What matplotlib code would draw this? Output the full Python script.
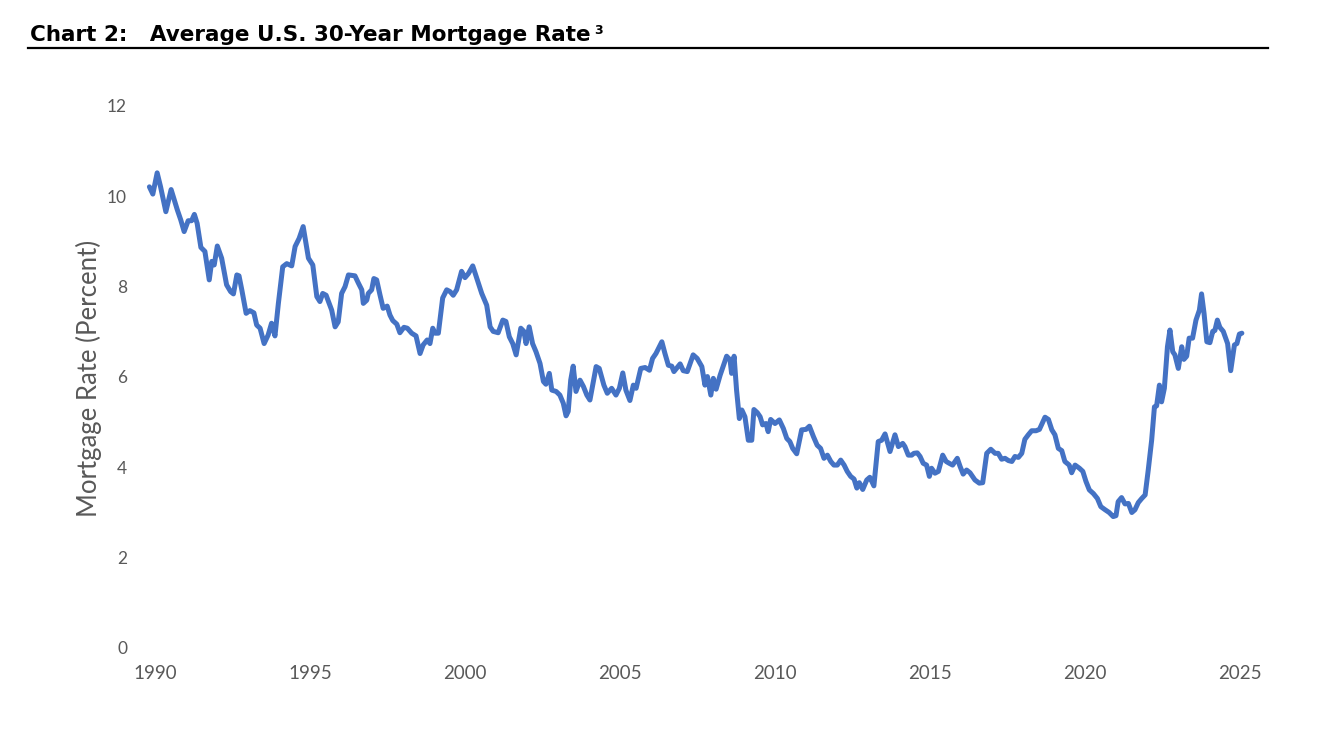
import matplotlib
matplotlib.use("Agg")
import matplotlib.pyplot as plt

# Decimal-year dates and average 30-year mortgage rate (percent)
years = [
    1989.82, 1989.93, 1990.07, 1990.18, 1990.35, 1990.52, 1990.72, 1990.83, 1990.94, 1991.07,
    1991.18, 1991.27, 1991.36, 1991.48, 1991.61, 1991.75, 1991.83, 1991.91, 1992.01, 1992.15,
    1992.31, 1992.44, 1992.53, 1992.64, 1992.71, 1992.80, 1992.94, 1993.06, 1993.19, 1993.28,
    1993.39, 1993.52, 1993.65, 1993.76, 1993.87, 1993.98, 1994.12, 1994.25, 1994.41, 1994.52,
    1994.65, 1994.78, 1994.95, 1995.09, 1995.22, 1995.32, 1995.41, 1995.52, 1995.62, 1995.70,
    1995.81, 1995.91, 1996.02, 1996.13, 1996.24, 1996.45, 1996.56, 1996.67, 1996.72, 1996.83,
    1996.88, 1996.99, 1997.06, 1997.15, 1997.26, 1997.36, 1997.49, 1997.58, 1997.67, 1997.80,
    1997.90, 1998.03, 1998.14, 1998.28, 1998.42, 1998.55, 1998.65, 1998.78, 1998.87, 1998.96,
    1999.03, 1999.14, 1999.28, 1999.41, 1999.52, 1999.62, 1999.73, 1999.89, 2000.00, 2000.11,
    2000.25, 2000.38, 2000.54, 2000.70, 2000.81, 2000.91, 2001.07, 2001.22, 2001.32, 2001.43,
    2001.54, 2001.65, 2001.80, 2001.90, 2001.97, 2002.07, 2002.18, 2002.29, 2002.42, 2002.53,
    2002.61, 2002.72, 2002.80, 2002.94, 2003.06, 2003.17, 2003.26, 2003.33, 2003.41, 2003.49,
    2003.58, 2003.71, 2003.82, 2003.93, 2004.03, 2004.12, 2004.23, 2004.33, 2004.48, 2004.59,
    2004.73, 2004.87, 2004.98, 2005.09, 2005.19, 2005.32, 2005.43, 2005.52, 2005.67, 2005.81,
    2005.95, 2006.05, 2006.16, 2006.35, 2006.45, 2006.56, 2006.67, 2006.74, 2006.94, 2007.04,
    2007.17, 2007.36, 2007.49, 2007.64, 2007.74, 2007.82, 2007.93, 2008.01, 2008.10, 2008.23,
    2008.44, 2008.55, 2008.60, 2008.68, 2008.76, 2008.85, 2008.93, 2009.03, 2009.14, 2009.25,
    2009.32, 2009.43, 2009.52, 2009.60, 2009.71, 2009.78, 2009.86, 2010.00, 2010.14, 2010.27,
    2010.38, 2010.48, 2010.57, 2010.70, 2010.86, 2011.00, 2011.11, 2011.24, 2011.36, 2011.47,
    2011.58, 2011.69, 2011.80, 2011.90, 2012.01, 2012.12, 2012.23, 2012.33, 2012.44, 2012.55,
    2012.64, 2012.72, 2012.83, 2012.96, 2013.06, 2013.19, 2013.33, 2013.44, 2013.55, 2013.71,
    2013.87, 2013.98, 2014.12, 2014.19, 2014.30, 2014.41, 2014.48, 2014.59, 2014.68, 2014.78,
    2014.89, 2014.98, 2015.05, 2015.16, 2015.27, 2015.41, 2015.52, 2015.62, 2015.73, 2015.88,
    2015.97, 2016.07, 2016.18, 2016.29, 2016.45, 2016.59, 2016.70, 2016.83, 2016.96, 2017.10,
    2017.20, 2017.31, 2017.42, 2017.53, 2017.64, 2017.74, 2017.85, 2017.96, 2018.06, 2018.17,
    2018.28, 2018.42, 2018.53, 2018.71, 2018.82, 2018.93, 2019.03, 2019.14, 2019.25, 2019.35,
    2019.49, 2019.57, 2019.68, 2019.82, 2019.93, 2020.03, 2020.14, 2020.27, 2020.40, 2020.51,
    2020.65, 2020.78, 2020.91, 2021.00, 2021.07, 2021.18, 2021.29, 2021.40, 2021.51, 2021.61,
    2021.72, 2021.83, 2021.94, 2022.04, 2022.15, 2022.24, 2022.31, 2022.40, 2022.47, 2022.56,
    2022.66, 2022.74, 2022.83, 2022.90, 2023.01, 2023.12, 2023.19, 2023.28, 2023.36, 2023.47,
    2023.58, 2023.69, 2023.76, 2023.84, 2023.93, 2024.03, 2024.12, 2024.19, 2024.27, 2024.35,
    2024.46, 2024.60, 2024.70, 2024.82, 2024.90, 2024.98, 2025.06,
]
rates = [
    10.21, 10.05, 10.52, 10.21, 9.66, 10.15, 9.70, 9.48, 9.22, 9.46,
    9.46, 9.60, 9.40, 8.87, 8.78, 8.15, 8.56, 8.48, 8.90, 8.63,
    8.04, 7.89, 7.84, 8.26, 8.24, 7.93, 7.41, 7.47, 7.42, 7.15,
    7.08, 6.74, 6.93, 7.19, 6.91, 7.63, 8.44, 8.51, 8.46, 8.89,
    9.07, 9.33, 8.63, 8.48, 7.78, 7.67, 7.85, 7.81, 7.63, 7.48,
    7.11, 7.22, 7.85, 8.00, 8.26, 8.24, 8.08, 7.93, 7.63, 7.70,
    7.85, 7.93, 8.18, 8.15, 7.81, 7.52, 7.57, 7.37, 7.25, 7.17,
    6.98, 7.10, 7.08, 6.97, 6.91, 6.52, 6.71, 6.82, 6.74, 7.08,
    6.97, 6.97, 7.75, 7.93, 7.89, 7.81, 7.93, 8.34, 8.20, 8.29,
    8.46, 8.19, 7.85, 7.59, 7.11, 7.01, 6.98, 7.26, 7.23, 6.89,
    6.74, 6.49, 7.08, 7.01, 6.74, 7.11, 6.74, 6.56, 6.30, 5.90,
    5.84, 6.08, 5.71, 5.68, 5.60, 5.42, 5.14, 5.24, 5.93, 6.24,
    5.68, 5.93, 5.79, 5.60, 5.49, 5.82, 6.23, 6.19, 5.82, 5.64,
    5.75, 5.60, 5.75, 6.09, 5.71, 5.48, 5.82, 5.75, 6.19, 6.21,
    6.15, 6.41, 6.52, 6.78, 6.52, 6.26, 6.24, 6.12, 6.29, 6.14,
    6.12, 6.49, 6.41, 6.23, 5.82, 6.01, 5.60, 5.97, 5.73, 6.04,
    6.46, 6.38, 6.08, 6.46, 5.71, 5.08, 5.27, 5.12, 4.60, 4.60,
    5.28, 5.21, 5.12, 4.94, 4.97, 4.79, 5.06, 4.97, 5.05, 4.86,
    4.64, 4.57, 4.42, 4.30, 4.83, 4.84, 4.91, 4.68, 4.49, 4.42,
    4.20, 4.27, 4.13, 4.05, 4.05, 4.16, 4.05, 3.91, 3.80, 3.74,
    3.54, 3.66, 3.51, 3.72, 3.78, 3.59, 4.57, 4.60, 4.74, 4.35,
    4.72, 4.46, 4.53, 4.46, 4.27, 4.27, 4.31, 4.32, 4.24, 4.09,
    4.05, 3.80, 3.98, 3.87, 3.91, 4.27, 4.13, 4.09, 4.05, 4.20,
    4.02, 3.85, 3.94, 3.88, 3.72, 3.65, 3.66, 4.31, 4.40, 4.31,
    4.31, 4.18, 4.20, 4.15, 4.13, 4.24, 4.22, 4.31, 4.62, 4.72,
    4.81, 4.81, 4.84, 5.11, 5.06, 4.83, 4.72, 4.42, 4.37, 4.13,
    4.05, 3.88, 4.05, 3.98, 3.91, 3.69, 3.50, 3.42, 3.31, 3.13,
    3.06, 3.00, 2.91, 2.93, 3.24, 3.33, 3.19, 3.20, 3.00, 3.06,
    3.22, 3.31, 3.39, 3.94, 4.60, 5.34, 5.36, 5.82, 5.45, 5.75,
    6.67, 7.04, 6.56, 6.49, 6.19, 6.67, 6.39, 6.46, 6.86, 6.86,
    7.26, 7.48, 7.84, 7.41, 6.78, 6.76, 7.01, 7.03, 7.26, 7.10,
    7.01, 6.74, 6.14, 6.71, 6.74, 6.95, 6.97,
]
x_ticks = [1990, 1995, 2000, 2005, 2010, 2015, 2020, 2025]
y_ticks = [0, 2, 4, 6, 8, 10, 12]
title = "Chart 2:   Average U.S. 30-Year Mortgage Rate"
title_note = "3"
y_label = "Mortgage Rate (Percent)"

W, H = 1326, 729
fig = plt.figure(figsize=(W / 100, H / 100), dpi=100)
fig.patch.set_facecolor("white")

grey = "#595959"
ax = fig.add_axes([139.5 / W, 1 - 648 / H, 1116 / W, 542 / H])
ax.plot(years, rates, color="#4472C4", lw=3.6, solid_joinstyle="round",
        solid_capstyle="round", clip_on=False)
ax.set_xlim(1989.5, 2025.5)
ax.set_ylim(0, 12)
ax.set_xticks(x_ticks)
ax.set_yticks(y_ticks)
ax.set_xticklabels([str(t) for t in x_ticks], fontfamily="Lato", fontsize=13.5)
ax.set_yticklabels([str(t) for t in y_ticks], fontfamily="Lato", fontsize=12.5)
for s in ax.spines.values():
    s.set_visible(False)
ax.tick_params(axis="both", length=0, colors=grey)
ax.tick_params(axis="x", pad=12)
ax.tick_params(axis="y", pad=9)
ax.set_ylabel(y_label, color=grey, fontsize=18.5, fontfamily="Lato")
ax.yaxis.set_label_coords(-0.034, 0.497)

# Title and rule
t = fig.text(30 / W, 1 - 41 / H, title, fontsize=15.5, fontweight="bold",
             color="black", ha="left", va="baseline")
fig.canvas.draw()
bb = t.get_window_extent()
fig.text(bb.x1 / W + 4 / W, 1 - 34 / H, title_note, fontsize=9, fontweight="bold",
         color="black", ha="left", va="baseline")
fig.add_artist(plt.Line2D([28 / W, 1268 / W], [1 - 48 / H, 1 - 48 / H],
                          color="black", lw=1.6, transform=fig.transFigure))

fig.savefig("out.png", dpi=100)
